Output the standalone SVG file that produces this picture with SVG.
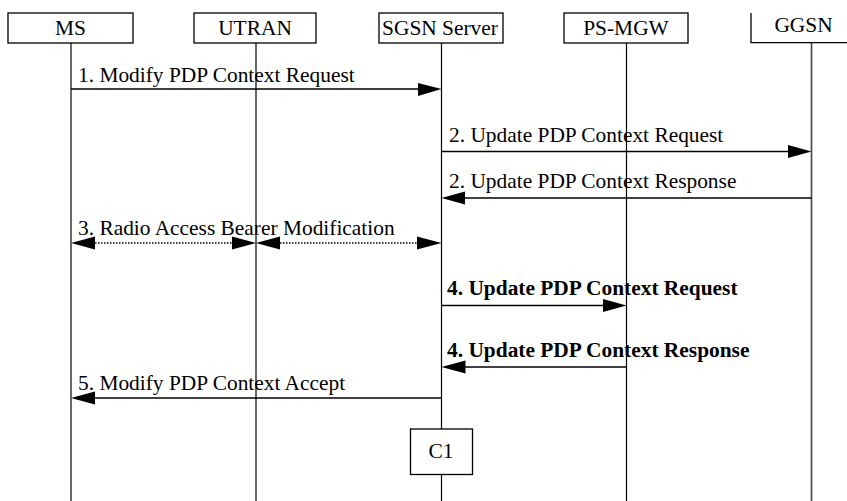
<svg xmlns="http://www.w3.org/2000/svg" width="847" height="501" viewBox="0 0 847 501">
<defs>
<style>
.box{fill:#fff;stroke:#000;stroke-width:1.3}
.life{stroke:#000;stroke-width:1.2;fill:none}
.lifeg{stroke:#444;stroke-width:1.6;fill:none}
.msg{stroke:#000;stroke-width:1.6;fill:none}
.dot{stroke:#000;stroke-width:1.3;stroke-dasharray:1.5 1.5;fill:none}
.t{font-family:'Liberation Serif','DejaVu Serif',serif;font-size:21.4px;fill:#000}
.h{text-anchor:middle}
.b{font-weight:bold}
.ah{fill:#000;stroke:none}
</style>
</defs>
<g id="lifelines">
<line class="lifeg" x1="71" y1="43" x2="71" y2="501"/>
<line class="life" x1="256" y1="43" x2="256" y2="501"/>
<line class="life" x1="441.5" y1="43" x2="441.5" y2="501"/>
<line class="life" x1="626.5" y1="43" x2="626.5" y2="501"/>
<line class="lifeg" x1="811.5" y1="43" x2="811.5" y2="501"/>
</g>
<g id="MS"><rect class="box" x="8" y="13" width="125" height="30"/><text class="t h" x="70.5" y="35">MS</text></g>
<g id="UTRAN"><rect class="box" x="194" y="13" width="122" height="30"/><text class="t h" x="255" y="35">UTRAN</text></g>
<g id="SGSN"><rect class="box" x="379" y="13" width="124" height="30"/><text class="t h" x="440" y="35">SGSN Server</text></g>
<g id="PSMGW"><rect class="box" x="564" y="13" width="124" height="30"/><text class="t h" x="626" y="35">PS-MGW</text></g>
<g id="GGSN"><rect x="751" y="13" width="120" height="30" fill="#fff"/><path d="M751 13 V42.7 H847" fill="none" stroke="#000" stroke-width="1.3"/><text class="t h" x="803.5" y="32">GGSN</text></g>
<g id="connectors">
<line class="msg" x1="71" y1="89" x2="420" y2="89"/><polygon class="ah" points="418,83 441.5,89 418,96"/>
<text class="t" x="78" y="82">1. Modify PDP Context Request</text>
<line class="msg" x1="441.5" y1="151.5" x2="790" y2="151.5"/><polygon class="ah" points="788,145 811.5,151.5 788,158"/>
<text class="t" x="449" y="142">2. Update PDP Context Request</text>
<line class="msg" x1="811.5" y1="198" x2="462" y2="198"/><polygon class="ah" points="465,191.5 441.5,198 465,204.5"/>
<text class="t" x="449" y="188">2. Update PDP Context Response</text>
<line class="dot" x1="95" y1="243" x2="232" y2="243"/><line class="dot" x1="280" y1="243" x2="417" y2="243"/>
<polygon class="ah" points="95,236.5 71,243 95,249.5"/><polygon class="ah" points="232,236.5 256,243 232,249.5"/>
<polygon class="ah" points="280,236.5 256,243 280,249.5"/><polygon class="ah" points="417,236.5 441.5,243 417,249.5"/>
<text class="t" x="78" y="235">3. Radio Access Bearer Modification</text>
<line class="msg" x1="441.5" y1="305.5" x2="605" y2="305.5"/><polygon class="ah" points="603,299 626.5,305.5 603,312"/>
<text class="t b" x="447" y="295">4. Update PDP Context Request</text>
<line class="msg" x1="626.5" y1="367" x2="463" y2="367"/><polygon class="ah" points="465.5,360.5 441.5,367 465.5,373.5"/>
<text class="t b" x="447" y="357">4. Update PDP Context Response</text>
<line class="msg" x1="441.5" y1="398" x2="93" y2="398"/><polygon class="ah" points="95,391.5 71,398 95,404.5"/>
<text class="t" x="78" y="390">5. Modify PDP Context Accept</text>
</g>
<g id="C1"><rect class="box" x="410.5" y="429" width="62" height="45.5"/><text class="t h" x="441" y="458">C1</text></g>
</svg>
